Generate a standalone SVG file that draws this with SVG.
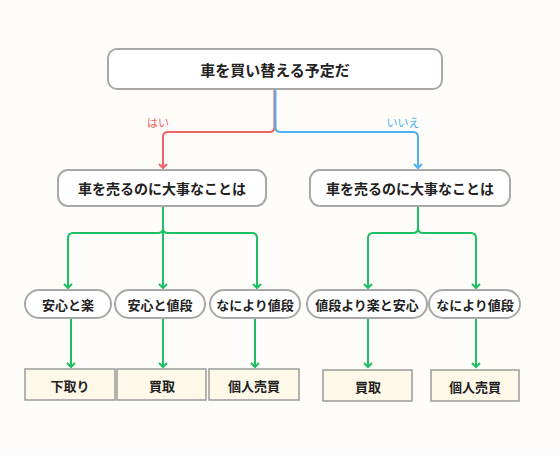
<svg xmlns="http://www.w3.org/2000/svg" width="560" height="455" viewBox="0 0 560 455">
<defs>
<style>
text{font-family:"Noto Sans CJK JP","Noto Sans",sans-serif;font-weight:bold;fill:#222;text-anchor:middle;dominant-baseline:central}
.q{fill:#fff;stroke:#a8a8a8;stroke-width:2}
.p{fill:#fff;stroke:#a8a8a8;stroke-width:2}
.b{fill:#fdf8e8;stroke:#9a9a9a;stroke-width:1.5}
.g{fill:none;stroke:#1dbf62;stroke-width:2;marker-end:url(#ag)}
.r{fill:none;stroke:#f26464;stroke-width:2;marker-end:url(#ar)}
.u{fill:none;stroke:#4cb0f2;stroke-width:2;marker-end:url(#au)}
</style>
<marker id="ag" markerUnits="userSpaceOnUse" markerWidth="12" markerHeight="12" viewBox="-6 -6 12 12" refX="0" refY="0" orient="auto"><path d="M-4,-4 L0,0 L-4,4" fill="none" stroke="#1dbf62" stroke-width="2"/></marker>
<marker id="ar" markerUnits="userSpaceOnUse" markerWidth="12" markerHeight="12" viewBox="-6 -6 12 12" refX="0" refY="0" orient="auto"><path d="M-4,-4 L0,0 L-4,4" fill="none" stroke="#f26464" stroke-width="2"/></marker>
<marker id="au" markerUnits="userSpaceOnUse" markerWidth="12" markerHeight="12" viewBox="-6 -6 12 12" refX="0" refY="0" orient="auto"><path d="M-4,-4 L0,0 L-4,4" fill="none" stroke="#4cb0f2" stroke-width="2"/></marker>
</defs>
<rect width="560" height="455" fill="#fdfcf8"/>
<g id="connectors">
<path class="r" d="M274.5,90 V127 Q274.5,132 269.5,132 H168 Q163,132 163,137 V168"/>
<path class="u" d="M275.5,90 V127 Q275.5,132 280.5,132 H413 Q418,132 418,137 V168"/>
<text x="158" y="122" style="fill:#f26464;font-size:11px;font-weight:normal">はい</text>
<text x="403" y="122" style="fill:#4cb0f2;font-size:11px;font-weight:normal">いいえ</text>
<path class="g" d="M163,207 V228 Q163,233 158,233 H73 Q68,233 68,238 V288"/>
<path class="g" d="M163,207 V288"/>
<path class="g" d="M163,207 V228 Q163,233 168,233 H252 Q257,233 257,238 V288"/>
<path class="g" d="M418,207 V228 Q418,233 413,233 H373 Q368,233 368,238 V288"/>
<path class="g" d="M418,207 V228 Q418,233 423,233 H471 Q476,233 476,238 V288"/>
<path class="g" d="M71,318 V367"/>
<path class="g" d="M163,318 V367"/>
<path class="g" d="M255,318 V367"/>
<path class="g" d="M368,318 V367"/>
<path class="g" d="M476,318 V367"/>
</g>
<g id="q0"><rect class="q" x="108" y="49" width="334" height="40" rx="9"/><text x="275" y="69" style="font-size:15px">車を買い替える予定だ</text></g>
<g id="q1"><rect class="q" x="58" y="170" width="208" height="36" rx="10"/><text x="162" y="188" style="font-size:14px">車を売るのに大事なことは</text></g>
<g id="q2"><rect class="q" x="310" y="170" width="200" height="36" rx="10"/><text x="410" y="188" style="font-size:14px">車を売るのに大事なことは</text></g>
<g id="p1"><rect class="p" x="25" y="290" width="86" height="28" rx="14"/><text x="68" y="304" style="font-size:13px">安心と楽</text></g>
<g id="p2"><rect class="p" x="115" y="290" width="90" height="28" rx="14"/><text x="160" y="304" style="font-size:13px">安心と値段</text></g>
<g id="p3"><rect class="p" x="210" y="290" width="90" height="28" rx="14"/><text x="255" y="304" style="font-size:13px">なにより値段</text></g>
<g id="p4"><rect class="p" x="307" y="290" width="120" height="28" rx="14"/><text x="367" y="304" style="font-size:13px">値段より楽と安心</text></g>
<g id="p5"><rect class="p" x="429" y="290" width="91" height="28" rx="14"/><text x="475" y="304" style="font-size:13px">なにより値段</text></g>
<g id="b1"><rect class="b" x="25" y="369" width="90" height="31"/><text x="70" y="385" style="font-size:13px">下取り</text></g>
<g id="b2"><rect class="b" x="117" y="369" width="89" height="31"/><text x="162" y="385" style="font-size:13px">買取</text></g>
<g id="b3"><rect class="b" x="209" y="369" width="90" height="31"/><text x="254" y="385" style="font-size:13px">個人売買</text></g>
<g id="b4"><rect class="b" x="323" y="370" width="89" height="31"/><text x="368" y="386" style="font-size:13px">買取</text></g>
<g id="b5"><rect class="b" x="431" y="370" width="88" height="31"/><text x="475" y="386" style="font-size:13px">個人売買</text></g>
</svg>
